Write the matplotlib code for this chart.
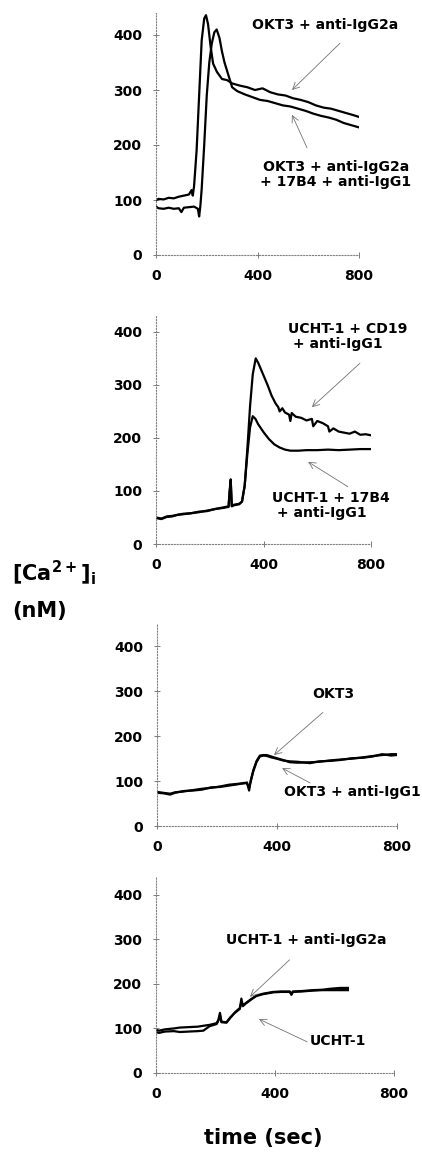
import matplotlib
matplotlib.use("Agg")
import matplotlib.pyplot as plt

plt.rcParams['font.family'] = ['DejaVu Sans']
plt.rcParams['font.weight'] = 'bold'
plt.rcParams['mathtext.fontset'] = 'custom'
plt.rcParams['mathtext.bf'] = 'DejaVu Sans:bold'
plt.rcParams['mathtext.rm'] = 'DejaVu Sans:bold'

# Panel A: OKT3 cross-linking
t_a1 = [0, 10, 30, 50, 70, 90, 110, 130, 140, 145, 150, 160, 170, 180, 190, 197, 205,
        215, 225, 240, 260, 280, 300, 330, 360, 390, 420, 450, 480, 510, 540, 570, 600,
        630, 660, 690, 720, 750, 780, 800]
okt3_g2a = [100, 102, 101, 104, 103, 106, 108, 110, 118, 108, 125, 190, 290, 390, 430, 436,
            420, 380, 348, 333, 320, 318, 312, 308, 305, 300, 303, 296, 292, 290, 285, 282,
            278, 272, 268, 266, 262, 258, 254, 251]
t_a2 = [0, 10, 30, 50, 70, 90, 100, 110, 130, 150, 165, 170, 175, 180, 190, 200, 210, 220,
        230, 239, 250, 260, 270, 280, 290, 300, 320, 350, 380, 410, 440, 470, 500, 530, 560,
        590, 620, 650, 680, 710, 740, 770, 800]
okt3_g2a_17b4 = [88, 85, 84, 86, 84, 85, 78, 86, 87, 88, 84, 70, 90, 120, 200, 290, 350, 385,
                 405, 410, 395, 370, 350, 335, 320, 305, 298, 292, 287, 282, 280, 276, 272,
                 270, 266, 262, 257, 253, 250, 246, 240, 236, 232]

# Panel B: UCHT-1 with CD19 or 17B4
t_b1 = [0, 20, 40, 60, 80, 100, 130, 160, 190, 220, 250, 270, 274, 278, 282, 290, 300, 310,
        320, 330, 340, 350, 360, 371, 380, 390, 400, 415, 430, 445, 455, 460, 470, 480, 495,
        500, 505, 520, 540, 560, 580, 585, 600, 620, 640, 645, 660, 680, 700, 720, 740, 760,
        780, 800]
ucht_cd19 = [50, 48, 52, 53, 55, 57, 58, 60, 63, 66, 69, 71, 100, 122, 72, 74, 75, 76, 80,
             110, 180, 260, 320, 350, 342, 330, 318, 300, 280, 265, 258, 250, 256, 248, 244,
             232, 247, 240, 238, 233, 236, 222, 232, 228, 222, 212, 218, 212, 210, 208, 212,
             206, 207, 205]
t_b2 = [0, 20, 40, 60, 80, 100, 130, 160, 190, 220, 250, 270, 274, 278, 282, 290, 300, 310,
        320, 330, 340, 350, 360, 370, 380, 400, 420, 440, 460, 480, 500, 530, 560, 600, 640,
        680, 720, 760, 800]
ucht_17b4 = [49, 47, 51, 52, 55, 56, 58, 61, 62, 66, 68, 70, 98, 118, 71, 73, 74, 75, 80, 110,
             170, 220, 241, 236, 226, 211, 198, 188, 182, 178, 176, 176, 177, 177, 178, 177,
             178, 179, 179]

# Panel C: OKT3 alone / with anti-IgG1
t_c = [0, 20, 44, 60, 90, 120, 150, 180, 210, 240, 270, 290, 300, 307, 312, 321, 332, 343,
       355, 366, 380, 399, 420, 443, 470, 510, 540, 576, 610, 650, 687, 720, 750, 780, 798]
okt3 = [76, 74, 72, 75, 77, 80, 83, 85, 88, 92, 94, 95, 97, 79, 100, 124, 145, 157, 158, 158,
        155, 151, 147, 142, 141, 142, 143, 146, 148, 150, 153, 156, 158, 160, 160]
okt3_igg1 = [74, 73, 70, 74, 78, 79, 81, 86, 87, 90, 93, 96, 95, 85, 98, 122, 143, 155, 157,
             156, 153, 150, 146, 144, 143, 140, 144, 145, 147, 151, 152, 155, 160, 157, 158]

# Panel D: UCHT-1 alone / with anti-IgG2a
t_d = [0, 10, 30, 60, 80, 110, 140, 159, 180, 204, 210, 215, 220, 237, 250, 265, 282, 287,
       292, 300, 320, 338, 360, 394, 420, 450, 455, 460, 490, 528, 560, 584, 620, 645]
ucht_g2a = [97, 95, 98, 100, 102, 103, 104, 106, 108, 112, 120, 135, 115, 114, 125, 135, 144,
            167, 150, 155, 165, 174, 178, 182, 183, 183, 176, 183, 184, 186, 187, 189, 191, 191]
ucht = [92, 90, 93, 94, 92, 93, 94, 95, 105, 110, 118, 130, 114, 113, 124, 136, 146, 160,
        152, 156, 166, 173, 177, 181, 182, 182, 176, 182, 183, 185, 186, 186, 186, 186]

yticks = [0, 100, 200, 300, 400]
xticks = [0, 400, 800]

W, H = 422, 1153
fig = plt.figure(figsize=(W / 100, H / 100), dpi=100)


def make_axes(left, width, bottom, top, ytop):
    # pixel box -> figure fraction
    ax = fig.add_axes([left / W, (H - bottom) / H, width / W, (bottom - top) / H])
    ax.set_xlim(0, 800)
    ax.set_ylim(0, ytop)
    for s in ['top', 'right']:
        ax.spines[s].set_visible(False)
    for s in ['left', 'bottom']:
        ax.spines[s].set_linestyle(':')
        ax.spines[s].set_color('0.5')
        ax.spines[s].set_linewidth(0.8)
    ax.set_xticks(xticks)
    ax.set_yticks(yticks)
    ax.tick_params(direction='inout', length=4, width=0.6, color='0.4',
                   labelsize=10, pad=8)
    for lab in ax.get_xticklabels() + ax.get_yticklabels():
        lab.set_fontweight('bold')
    return ax


def arrow(ax, start, end):
    ax.annotate('', xy=end, xytext=start, annotation_clip=False,
                arrowprops=dict(arrowstyle='->', color='0.45', lw=0.6,
                                mutation_scale=12, shrinkA=0, shrinkB=0))


def label(ax, x, y, s, ha='center'):
    ax.text(x, y, s, ha=ha, va='center', fontsize=10.1, fontweight='bold',
            clip_on=False, linespacing=1.1)


lw = 1.6

ax1 = make_axes(156, 203, 255, 13, 440)
ax1.plot(t_a1, okt3_g2a, color='black', lw=lw)
ax1.plot(t_a2, okt3_g2a_17b4, color='black', lw=lw)
label(ax1, 666, 418, 'OKT3 + anti-IgG2a')
arrow(ax1, (725, 385), (536, 300))
label(ax1, 709, 147, 'OKT3 + anti-IgG2a\n+ 17B4 + anti-IgG1')
arrow(ax1, (595, 195), (536, 255))

ax2 = make_axes(156, 215, 544, 316, 430)
ax2.plot(t_b1, ucht_cd19, color='black', lw=lw)
ax2.plot(t_b2, ucht_17b4, color='black', lw=lw)
label(ax2, 491, 392, 'UCHT-1 + CD19\n + anti-IgG1', ha='left')
arrow(ax2, (759, 341), (580, 258))
label(ax2, 432, 72, 'UCHT-1 + 17B4\n + anti-IgG1', ha='left')
arrow(ax2, (714, 108), (566, 155))

ax3 = make_axes(157, 240, 826, 624, 450)
ax3.plot(t_c, okt3, color='black', lw=lw)
ax3.plot(t_c, okt3_igg1, color='black', lw=lw)
label(ax3, 587, 293, 'OKT3')
arrow(ax3, (553, 253), (390, 158))
label(ax3, 425, 76, 'OKT3 + anti-IgG1', ha='left')
arrow(ax3, (510, 96), (417, 129))

ax4 = make_axes(156, 238, 1073, 877, 440)
ax4.plot(t_d, ucht_g2a, color='black', lw=lw)
ax4.plot(t_d, ucht, color='black', lw=lw)
label(ax4, 504, 299, 'UCHT-1 + anti-IgG2a')
arrow(ax4, (449, 254), (316, 171))
label(ax4, 518, 72, 'UCHT-1', ha='left')
arrow(ax4, (508, 70), (346, 121))

fig.text(12 / W, 1 - 573 / H, r'[Ca$^{\mathbf{2+}}$]$_{\mathbf{i}}$', fontsize=15,
         fontweight='bold', ha='left', va='center')
fig.text(12 / W, 1 - 611 / H, '(nM)', fontsize=15, fontweight='bold', ha='left', va='center')
fig.text(263 / W, 1 - 1138 / H, 'time (sec)', fontsize=15, fontweight='bold',
         ha='center', va='center')

fig.savefig('out.png', dpi=100)
